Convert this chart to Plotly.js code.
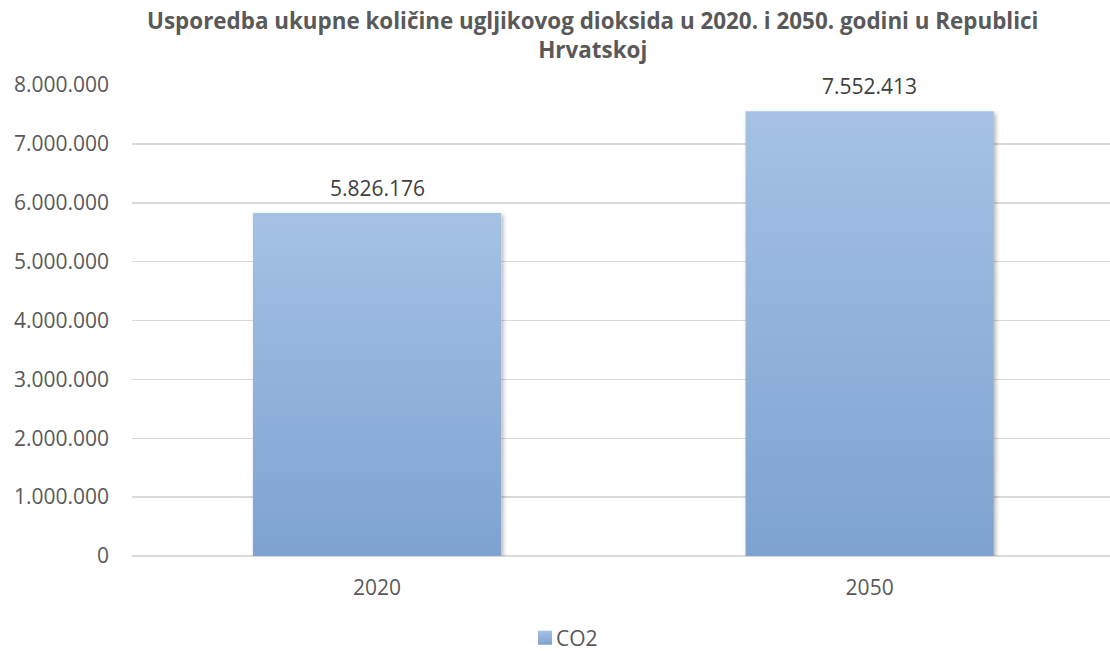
<!DOCTYPE html>
<html>
<head>
<meta charset="utf-8">
<script src="https://cdn.plot.ly/plotly-3.0.1.min.js"></script>
<style>
  html, body { margin: 0; padding: 0; background: #fff; }
  #chart { width: 1110px; height: 651px; }
</style>
</head>
<body>
<div id="chart"></div>
<script>
const categories = ['2020', '2050'];
const co2Values = [5826176, 7552413];
const seriesName = 'CO2';
const titleLine1 = 'Usporedba ukupne količine ugljikovog dioksida u 2020. i 2050. godini u Republici';
const titleLine2 = 'Hrvatskoj';
const yTickValues = [0, 1000000, 2000000, 3000000, 4000000, 5000000, 6000000, 7000000, 8000000];

const textColor = '#595959';
const fontFamily = '"Open Sans", "DejaVu Sans", sans-serif';

function fmtThousands(v) {
  return String(Math.round(v)).replace(/\B(?=(\d{3})+(?!\d))/g, '.');
}

const trace = {
  type: 'bar',
  x: categories,
  y: co2Values,
  name: seriesName,
  width: 0.504,
  marker: { color: '#92b1dc', line: { width: 0 } },
  showlegend: true,
  hoverinfo: 'x+y'
};

const labelAnnotations = categories.map((c, i) => ({
  x: i,
  y: co2Values[i],
  xref: 'x',
  yref: 'y',
  text: fmtThousands(co2Values[i]),
  showarrow: false,
  xanchor: 'center',
  yanchor: 'bottom',
  yshift: 9,
  font: { family: fontFamily, size: 21, color: '#404040' }
}));

const layout = {
  width: 1110,
  height: 651,
  paper_bgcolor: '#ffffff',
  plot_bgcolor: '#ffffff',
  separators: ',.',
  margin: { l: 132, r: 0, t: 85, b: 95 },
  title: {
    text: '<b>' + titleLine1 + '<br>' + titleLine2 + '</b>',
    font: { family: fontFamily, size: 22.4, color: textColor },
    x: 0.534,
    xref: 'container',
    xanchor: 'center',
    y: 0.956,
    yref: 'container',
    yanchor: 'middle'
  },
  xaxis: {
    type: 'category',
    range: [-0.4975, 1.488],
    showgrid: false,
    zeroline: false,
    showline: false,
    ticks: '',
    ticklabelstandoff: 17,
    tickfont: { family: fontFamily, size: 21, color: textColor }
  },
  yaxis: {
    range: [0, 8000000],
    tickvals: yTickValues,
    tickformat: ',.0f',
    showgrid: true,
    gridcolor: '#d9d9d9',
    gridwidth: 1.5,
    zeroline: true,
    zerolinecolor: '#d9d9d9',
    zerolinewidth: 1.5,
    showline: false,
    ticks: '',
    ticklabelstandoff: 22,
    tickfont: { family: fontFamily, size: 21, color: textColor }
  },
  legend: {
    orientation: 'h',
    xref: 'container',
    yref: 'container',
    x: 0.473,
    xanchor: 'left',
    y: 0.02,
    yanchor: 'middle',
    font: { family: fontFamily, size: 21, color: textColor },
    itemwidth: 30
  },
  annotations: labelAnnotations,
  bargap: 0.5
};

Plotly.newPlot('chart', [trace], layout, { displayModeBar: false, staticPlot: true }).then(gd => {
  const svg = gd.querySelector('svg.main-svg');
  const ns = 'http://www.w3.org/2000/svg';
  const defs = document.createElementNS(ns, 'defs');
  defs.innerHTML =
    '<linearGradient id="barGrad" x1="0" y1="0" x2="0" y2="1">' +
      '<stop offset="0" stop-color="#a5c1e5"/>' +
      '<stop offset="1" stop-color="#7ea2d0"/>' +
    '</linearGradient>' +
    '<filter id="barShadow" x="-10%" y="-10%" width="130%" height="130%">' +
      '<feDropShadow dx="2" dy="2" stdDeviation="2" flood-color="#000" flood-opacity="0.3"/>' +
    '</filter>';
  svg.insertBefore(defs, svg.firstChild);
  gd.querySelectorAll('.barlayer .point path').forEach(p => {
    p.style.fill = 'url(#barGrad)';
    p.setAttribute('filter', 'url(#barShadow)');
  });
  gd.querySelectorAll('.legend .legendpoints path').forEach(p => {
    p.style.fill = 'url(#barGrad)';
    p.setAttribute('d', 'M7,7H-7V-7H7Z');
  });
  gd.querySelectorAll('.legend .legendtext').forEach(t => {
    t.setAttribute('x', 31);
    t.querySelectorAll('tspan').forEach(s => { if (s.hasAttribute('x')) s.setAttribute('x', 31); });
  });
});
</script>
</body>
</html>
